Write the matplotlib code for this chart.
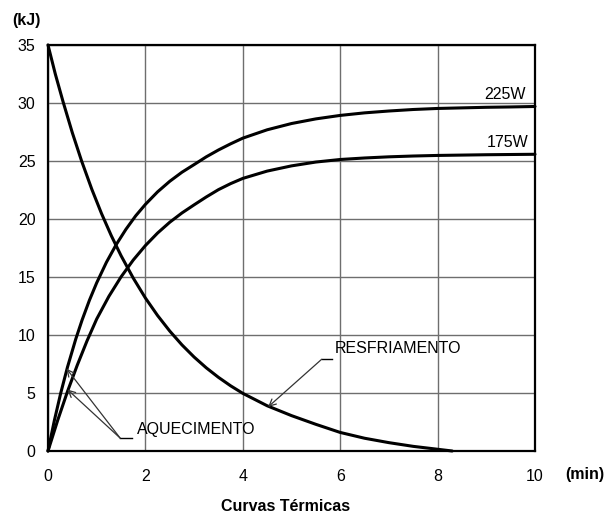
import matplotlib
matplotlib.use("Agg")
import matplotlib.pyplot as plt

plt.rcParams['font.family'] = ['Liberation Sans', 'DejaVu Sans']

# Heating curve, 225 W (time in min, energy in kJ)
t_225 = [0, 0.13, 0.26, 0.40, 0.57, 0.70, 0.85, 1.0, 1.2, 1.4, 1.6, 1.8, 2.0,
         2.25, 2.5, 2.75, 3.0, 3.25, 3.5, 3.75, 4.0, 4.5, 5.0, 5.5, 6.0, 6.5,
         7.0, 7.5, 8.0, 8.5, 9.0, 9.5, 10.0]
e_225 = [0, 2.62, 4.97, 7.23, 9.65, 11.29, 12.99, 14.50, 16.27, 17.79, 19.11,
         20.27, 21.26, 22.34, 23.25, 24.03, 24.69, 25.36, 25.95, 26.48, 26.97,
         27.69, 28.23, 28.63, 28.93, 29.15, 29.31, 29.44, 29.53, 29.58, 29.63,
         29.66, 29.7]

# Heating curve, 175 W
t_175 = [0, 0.2, 0.4, 0.6, 0.8, 1.0, 1.25, 1.5, 1.75, 2.0, 2.25, 2.5, 2.75,
         3.0, 3.25, 3.5, 3.75, 4.0, 4.5, 5.0, 5.5, 6.0, 6.5, 7.0, 7.5, 8.0,
         9.0, 10.0]
e_175 = [0, 2.66, 5.13, 7.39, 9.48, 11.38, 13.33, 15.01, 16.46, 17.71, 18.79,
         19.72, 20.52, 21.22, 21.90, 22.53, 23.05, 23.50, 24.13, 24.58, 24.91,
         25.13, 25.26, 25.36, 25.43, 25.48, 25.54, 25.58]

# Cooling curve
t_cool = [0, 0.15, 0.31, 0.5, 0.69, 0.9, 1.1, 1.3, 1.5, 1.75, 2.0, 2.25, 2.5,
          2.75, 3.0, 3.25, 3.5, 3.75, 4.0, 4.5, 5.0, 5.5, 6.0, 6.5, 7.0, 7.5,
          8.0, 8.3]
e_cool = [35, 32.5, 30.1, 27.43, 25.0, 22.56, 20.46, 18.56, 16.84, 14.91, 13.19,
          11.68, 10.34, 9.15, 8.10, 7.17, 6.35, 5.62, 4.97, 3.90, 3.05, 2.30,
          1.60, 1.10, 0.72, 0.40, 0.15, 0.0]

x_ticks = [0, 2, 4, 6, 8, 10]
y_ticks = [0, 5, 10, 15, 20, 25, 30, 35]

fig = plt.figure(figsize=(6.10, 5.17), dpi=100)
ax = fig.add_axes([48 / 610, 66 / 517, 487 / 610, 406 / 517])

ax.set_xlim(0, 10)
ax.set_ylim(0, 35)
ax.set_xticks(x_ticks)
ax.set_yticks(y_ticks)
ax.tick_params(axis='both', length=0, labelsize=11.5)
ax.tick_params(axis='x', pad=13)
ax.tick_params(axis='y', pad=9)
ax.grid(True, color='#6e6e6e', linewidth=1.0)
ax.set_axisbelow(True)
for s in ax.spines.values():
    s.set_linewidth(1.6)
    s.set_color('black')

for t, e in [(t_225, e_225), (t_175, e_175), (t_cool, e_cool)]:
    ax.plot(t, e, color='black', linewidth=2.2, solid_joinstyle='round',
            solid_capstyle='round', clip_on=False, zorder=3)

ax.text(9.81, 30.1, '225W', ha='right', va='bottom', fontsize=11.5)
ax.text(9.86, 25.95, '175W', ha='right', va='bottom', fontsize=11.5)

# Leader lines for the annotations
arrow = dict(arrowstyle='->', color='#333333', lw=0.9, shrinkA=0, shrinkB=0,
             mutation_scale=12)
ax.plot([1.48, 1.72], [1.12, 1.12], color='black', lw=1.0)
ax.annotate('', xy=(0.38, 7.1), xytext=(1.48, 1.12), arrowprops=arrow)
ax.annotate('', xy=(0.40, 5.3), xytext=(1.48, 1.12), arrowprops=arrow)
ax.text(1.82, 1.85, 'AQUECIMENTO', ha='left', va='center', fontsize=11.5)

ax.plot([5.62, 5.83], [7.91, 7.91], color='black', lw=1.0)
ax.annotate('', xy=(4.52, 3.80), xytext=(5.62, 7.91), arrowprops=arrow)
ax.text(5.89, 8.86, 'RESFRIAMENTO', ha='left', va='center', fontsize=11.5)

fig.text(12.7 / 610, 1 - 20 / 517, '(kJ)', ha='left', va='center',
         fontsize=11.5, fontweight='bold')
fig.text(565.7 / 610, 1 - 475 / 517, '(min)', ha='left', va='center',
         fontsize=11.5, fontweight='bold')
fig.text(286 / 610, 1 - 506.7 / 517, 'Curvas Térmicas', ha='center', va='center',
         fontsize=11.5, fontweight='bold')

fig.savefig('out.png', dpi=100)
